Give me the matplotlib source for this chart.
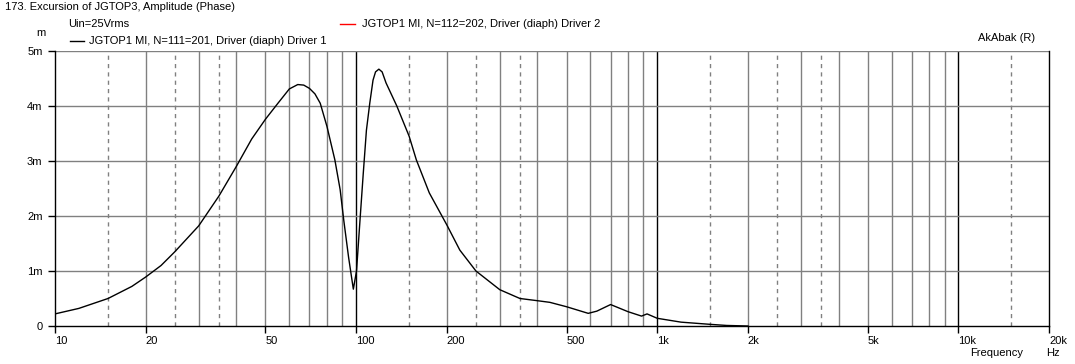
import numpy as np
import matplotlib
matplotlib.use('Agg')
import matplotlib.pyplot as plt
from matplotlib.lines import Line2D

plt.rcParams['font.family'] = ['Liberation Sans', 'DejaVu Sans']
plt.rcParams['font.size'] = 8

# excursion of driver 1 (mm)
freq = [10, 12, 15, 18, 20, 22.5, 25, 30, 35, 40, 45, 50, 55, 60, 64, 67, 70, 73, 76, 80,
        85, 88.5, 91, 94.4, 97.9, 100.3, 103, 105.6, 108.2, 111, 113.8, 116, 119, 122, 125.7,
        136.5, 150, 158.5, 175, 200, 221, 250, 300, 350, 400, 440, 500, 590,
        630, 700, 800, 887, 925, 1000, 1200, 1500, 1700, 2000]
exc_mm = [0.22, 0.32, 0.50, 0.72, 0.89, 1.1, 1.35, 1.82, 2.36, 2.90, 3.40, 3.76, 4.05,
          4.31, 4.39, 4.38, 4.32, 4.22, 4.05, 3.63, 3.02, 2.48, 1.92, 1.25, 0.67, 1.0,
          1.92, 2.77, 3.56, 4.05, 4.47, 4.62, 4.67, 4.62, 4.42, 4.0, 3.45, 3.02, 2.42,
          1.84, 1.38, 1.0, 0.66, 0.50, 0.46, 0.43, 0.35, 0.23, 0.27, 0.39, 0.26, 0.18,
          0.22, 0.14, 0.07, 0.03, 0.01, 0.0]

xticks = [10, 20, 50, 100, 200, 500, 1000, 2000, 5000, 10000, 20000]
xlabels = ['10', '20', '50', '100', '200', '500', '1k', '2k', '5k', '10k', '20k']
yticks = [0, 1, 2, 3, 4, 5]
ylabels = ['0', '1m', '2m', '3m', '4m', '5m']

W, H = 1075, 364
fig = plt.figure(figsize=(W / 100, H / 100), dpi=100)
ax = fig.add_axes([55 / W, 1 - 326 / H, (1049 - 55) / W, (326 - 51) / H])
ax.set_xscale('log')
ax.set_xlim(10, 20000)
ax.set_ylim(0, 5)

# grid
for dec in [10, 100, 1000, 10000]:
    for m in range(1, 10):
        f = dec * m
        if f <= 10 or f >= 20000:
            continue
        if m == 1:
            ax.axvline(f, color='black', lw=1, zorder=1)
        else:
            ax.axvline(f, color='#808080', lw=1, zorder=1)
    for m in [1.5, 2.5, 3.5]:
        f = dec * m
        if f < 20000:
            ax.axvline(f, color='#808080', lw=1, ls=(0, (3, 3)), zorder=1)
for y in yticks[1:]:
    ax.axhline(y, color='#808080', lw=1, zorder=1)

ax.plot(freq, exc_mm, color='black', lw=1, zorder=3)

for s in ['left', 'bottom', 'right']:
    ax.spines[s].set_color('black')
    ax.spines[s].set_linewidth(1)
ax.spines['top'].set_visible(False)

ax.set_xticks(xticks)
ax.set_xticklabels(xlabels, ha='left')
ax.xaxis.set_minor_locator(matplotlib.ticker.NullLocator())
ax.set_yticks(yticks)
ax.set_yticklabels(ylabels)
ax.tick_params(axis='x', length=5, width=1, pad=2, labelsize=8)
ax.tick_params(axis='y', length=5, width=1, pad=4, labelsize=8)

# texts around the plot
def ftext(x, y, s, **kw):
    fig.text(x / W, 1 - y / H, s, va='center', **kw)

ftext(5, 7, '173. Excursion of JGTOP3, Amplitude (Phase)')
ftext(68, 24, 'Uin=25Vrms')
ftext(36, 33, 'm')
fig.add_artist(Line2D([70 / W, 84 / W], [1 - 41 / H, 1 - 41 / H], color='black', lw=1))
ftext(89, 41, 'JGTOP1 MI, N=111=201, Driver (diaph) Driver 1')
fig.add_artist(Line2D([340 / W, 355 / W], [1 - 24 / H, 1 - 24 / H], color='red', lw=1))
ftext(362, 24, 'JGTOP1 MI, N=112=202, Driver (diaph) Driver 2')
ftext(978, 38, 'AkAbak (R)')
ftext(970, 353, 'Frequency')
ftext(1046, 353, 'Hz')

fig.savefig('out.png', dpi=100)
